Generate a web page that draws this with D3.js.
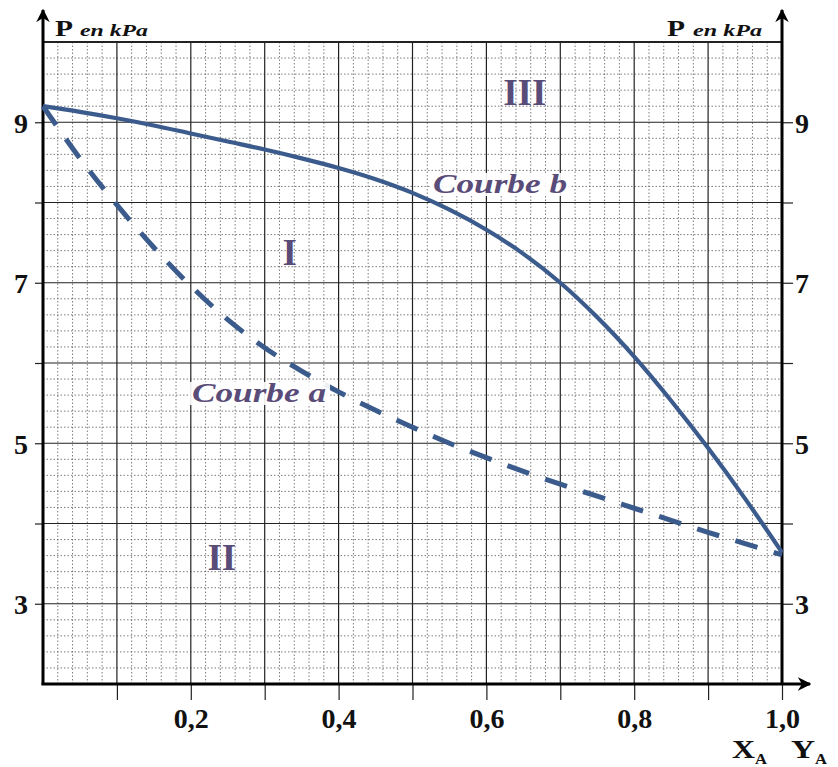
<!DOCTYPE html>
<html>
<head>
<meta charset="utf-8">
<script src="https://cdn.jsdelivr.net/npm/d3@7"></script>
<style>
  html, body { margin: 0; padding: 0; background: #fff; }
  svg { display: block; }
</style>
</head>
<body>
<div id="chart"></div>
<script>
// fraction X_A / Y_A, one step every 0.05
const frac = [0, 0.05, 0.1, 0.15, 0.2, 0.25, 0.3, 0.35, 0.4, 0.45, 0.5,
  0.55, 0.6, 0.65, 0.7, 0.75, 0.8, 0.85, 0.9, 0.95, 1.0];
// courbe a (dashed) pressure in kPa
const courbeA = [9.2, 8.55, 7.97, 7.44, 6.96, 6.54, 6.19, 5.9, 5.64, 5.41, 5.2,
  5.0, 4.82, 4.65, 4.49, 4.34, 4.19, 4.04, 3.89, 3.75, 3.61];
// courbe b (solid) pressure in kPa
const courbeB = [9.2, 9.13, 9.05, 8.96, 8.86, 8.76, 8.66, 8.55, 8.43, 8.29, 8.12,
  7.91, 7.66, 7.36, 7.0, 6.57, 6.08, 5.53, 4.94, 4.31, 3.64];

const xTicks = [0.1, 0.2, 0.3, 0.4, 0.5, 0.6, 0.7, 0.8, 0.9, 1.0];
const xLabels = [0.2, 0.4, 0.6, 0.8, 1.0];
const pTicks = [3, 4, 5, 6, 7, 8, 9];
const pLabels = [3, 5, 7, 9];

const regions = [
  { text: "I", x: 0.334, p: 7.22 },
  { text: "II", x: 0.242, p: 3.42 },
  { text: "III", x: 0.652, p: 9.215 }
];

const width = 838, height = 767;
const box = { left: 43, right: 782, top: 42, bottom: 684 };
const serif = "'Liberation Serif', 'DejaVu Serif', serif";
const curveColor = "#3b5b8c";
const labelColor = "#5a4c78";

const svg = d3.select("#chart").append("svg")
  .attr("width", width).attr("height", height);

const x = d3.scaleLinear().domain([0, 1]).range([box.left, box.right]);
const y = d3.scaleLinear().domain([2, 10]).range([box.bottom, box.top]);

svg.append("defs").append("marker")
  .attr("id", "arrow")
  .attr("viewBox", "0 0 10 10")
  .attr("refX", 9).attr("refY", 5)
  .attr("markerWidth", 4.5).attr("markerHeight", 4.5)
  .attr("markerUnits", "strokeWidth")
  .attr("orient", "auto")
  .append("path")
  .attr("d", "M0,0 L10,5 L0,10 L3,5 Z")
  .attr("fill", "#000");

// minor grid
const grid = svg.append("g");
grid.selectAll("line.mv")
  .data(d3.range(1, 50).filter(i => i % 5 !== 0).map(i => i / 50))
  .join("line")
  .attr("x1", d => x(d)).attr("x2", d => x(d))
  .attr("y1", box.top).attr("y2", box.bottom)
  .attr("stroke", "#5a5a5a").attr("stroke-width", 0.8)
  .attr("stroke-dasharray", "1.5,2");
grid.selectAll("line.mh")
  .data(d3.range(11, 50).filter(i => i % 5 !== 0).map(i => i / 5))
  .join("line")
  .attr("x1", box.left).attr("x2", box.right)
  .attr("y1", d => y(d)).attr("y2", d => y(d))
  .attr("stroke", "#5a5a5a").attr("stroke-width", 0.8)
  .attr("stroke-dasharray", "1.5,2");

// major grid
grid.selectAll("line.Mv")
  .data(xTicks.slice(0, -1))
  .join("line")
  .attr("x1", d => x(d)).attr("x2", d => x(d))
  .attr("y1", box.top).attr("y2", box.bottom)
  .attr("stroke", "#222").attr("stroke-width", 1.2);
grid.selectAll("line.Mh")
  .data(pTicks.concat([10]))
  .join("line")
  .attr("x1", box.left).attr("x2", box.right)
  .attr("y1", d => y(d)).attr("y2", d => y(d))
  .attr("stroke", "#222").attr("stroke-width", d => d === 10 ? 1.8 : 1.2);

const fmt = d => d3.format(".1f")(d).replace(".", ",");
const styleTickText = sel => sel
  .attr("font-family", serif).attr("font-weight", "bold")
  .attr("font-size", 28).attr("fill", "#111");

// bottom axis
const xAxis = svg.append("g")
  .attr("transform", `translate(0,${box.bottom})`)
  .call(d3.axisBottom(x).tickValues(xTicks).tickSize(16).tickSizeOuter(0)
    .tickFormat(d => xLabels.some(v => Math.abs(v - d) < 1e-9) ? fmt(d) : ""));
xAxis.select(".domain").remove();
xAxis.selectAll(".tick line").attr("stroke", "#222").attr("stroke-width", 1.2);
xAxis.selectAll(".tick text").attr("y", 24).attr("dy", "0.71em")
  .call(styleTickText);

// left and right axes
const yLeft = svg.append("g")
  .attr("transform", `translate(${box.left},0)`)
  .call(d3.axisLeft(y).tickValues(pTicks).tickSize(8).tickSizeOuter(0)
    .tickFormat(d => pLabels.includes(d) ? d : ""));
const yRight = svg.append("g")
  .attr("transform", `translate(${box.right},0)`)
  .call(d3.axisRight(y).tickValues(pTicks).tickSize(11).tickSizeOuter(0)
    .tickFormat(d => pLabels.includes(d) ? d : ""));
[yLeft, yRight].forEach(g => {
  g.select(".domain").remove();
  g.selectAll(".tick line").attr("stroke", "#222").attr("stroke-width", 1.2);
  g.selectAll(".tick text").attr("dy", "0.36em").call(styleTickText);
});
yLeft.selectAll(".tick text").attr("x", -15);
yRight.selectAll(".tick text").attr("x", 13);

// axis lines with arrows
const axisLines = [
  [box.left, box.bottom + 1, box.left, 10],
  [box.right, box.bottom + 1, box.right, 10],
  [box.left - 1.5, box.bottom, 810, box.bottom]
];
svg.append("g").selectAll("line")
  .data(axisLines)
  .join("line")
  .attr("x1", d => d[0]).attr("y1", d => d[1])
  .attr("x2", d => d[2]).attr("y2", d => d[3])
  .attr("stroke", "#000").attr("stroke-width", 3)
  .attr("marker-end", "url(#arrow)");

// axis titles (stretched like the reference lettering)
const stretched = (txt, tx, ty, size, w, italic) => svg.append("text")
  .attr("x", tx).attr("y", ty)
  .attr("font-family", serif).attr("font-weight", "bold")
  .attr("font-style", italic ? "italic" : "normal")
  .attr("font-size", size).attr("fill", "#111")
  .attr("textLength", w).attr("lengthAdjust", "spacingAndGlyphs")
  .text(txt);
stretched("P", 55, 36, 23, 18, false);
stretched("en kPa", 80, 36, 16, 68, true);
stretched("P", 667, 36, 23, 18, false);
stretched("en kPa", 693, 36, 16, 69, true);

stretched("X", 732, 758, 25, 23, false);
stretched("A", 755, 764, 15, 12, false);
stretched("Y", 791, 758, 25, 24, false);
stretched("A", 815, 764, 15, 12, false);

// curves
const line = d3.line().curve(d3.curveCatmullRom.alpha(0.5));
svg.append("path")
  .datum(frac.map((d, i) => [x(d), y(courbeA[i])]))
  .attr("d", line)
  .attr("fill", "none").attr("stroke", curveColor)
  .attr("stroke-width", 5)
  .attr("stroke-dasharray", "23,17");
svg.append("path")
  .datum(frac.map((d, i) => [x(d), y(courbeB[i])]))
  .attr("d", line)
  .attr("fill", "none").attr("stroke", curveColor)
  .attr("stroke-width", 4.2);

// curve labels with white backing
const curveLabel = (text, cx, cy) => {
  const t = svg.append("text")
    .attr("x", cx).attr("y", cy)
    .attr("font-family", serif).attr("font-weight", "bold")
    .attr("font-style", "italic").attr("font-size", 27)
    .attr("fill", labelColor)
    .attr("textLength", 134).attr("lengthAdjust", "spacingAndGlyphs")
    .text(text);
  const b = t.node().getBBox();
  svg.insert("rect", () => t.node())
    .attr("x", b.x - 2).attr("y", b.y + 4)
    .attr("width", b.width + 6).attr("height", b.height - 7)
    .attr("fill", "#fff").attr("opacity", 0.9);
};
curveLabel("Courbe b", 433, 193);
curveLabel("Courbe a", 192, 402);

// region numerals
svg.append("g").selectAll("text")
  .data(regions)
  .join("text")
  .attr("x", d => x(d.x)).attr("y", d => y(d.p))
  .attr("text-anchor", "middle")
  .attr("font-family", serif).attr("font-weight", "bold")
  .attr("font-size", 37).attr("fill", labelColor)
  .text(d => d.text);
</script>
</body>
</html>
